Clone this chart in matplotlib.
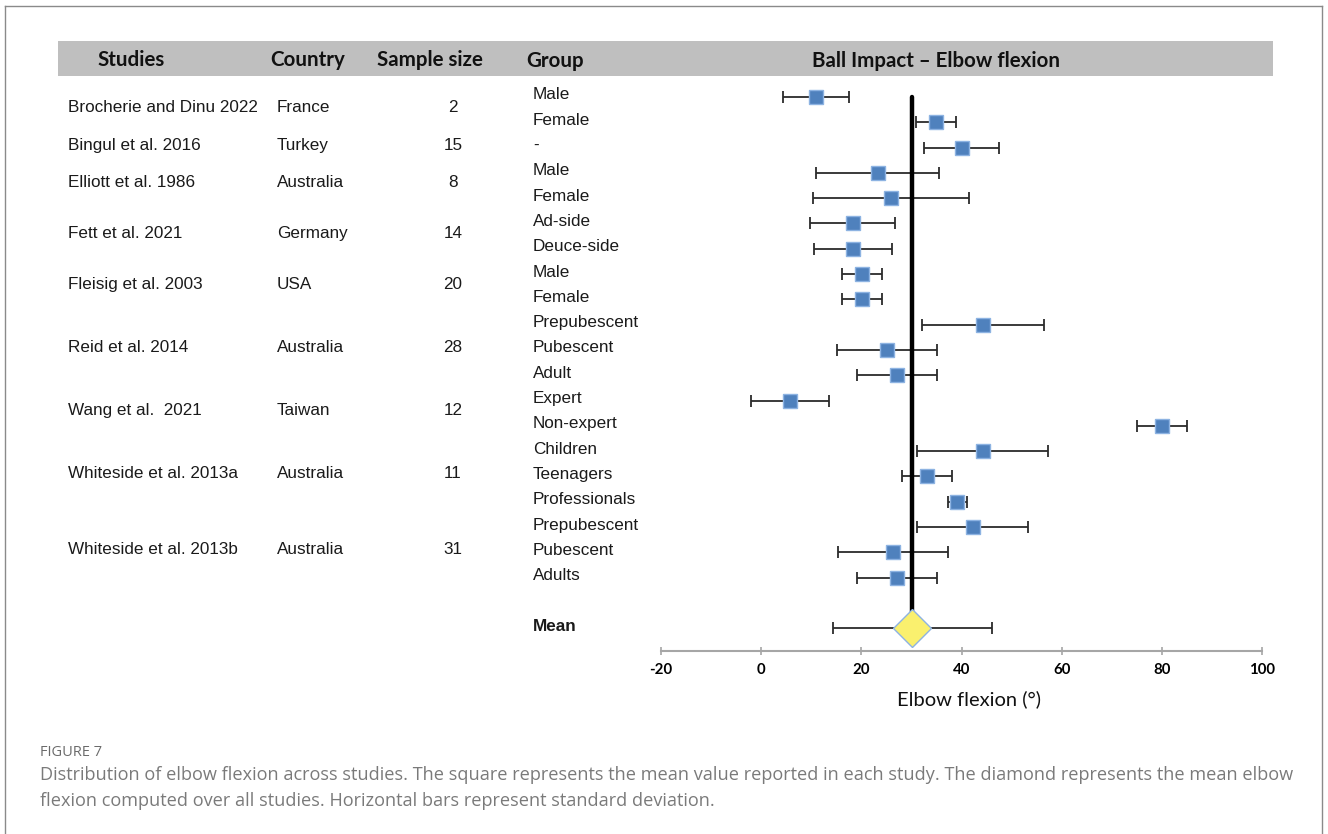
import matplotlib
matplotlib.use("Agg")
import matplotlib.pyplot as plt
import matplotlib.transforms as mtransforms
from matplotlib.patches import Rectangle
from matplotlib.lines import Line2D
import numpy as np

# ---------------- data ----------------
studies = ["Brocherie and Dinu 2022", "Bingul et al. 2016", "Elliott et al. 1986",
           "Fett et al. 2021", "Fleisig et al. 2003", "Reid et al. 2014",
           "Wang et al.  2021", "Whiteside et al. 2013a", "Whiteside et al. 2013b"]
countries = ["France", "Turkey", "Australia", "Germany", "USA", "Australia",
             "Taiwan", "Australia", "Australia"]
sample_sizes = [2, 15, 8, 14, 20, 28, 12, 11, 31]
groups_per_study = [2, 1, 2, 2, 2, 3, 2, 3, 3]

groups = ["Male", "Female", "-", "Male", "Female", "Ad-side", "Deuce-side",
          "Male", "Female", "Prepubescent", "Pubescent", "Adult", "Expert",
          "Non-expert", "Children", "Teenagers", "Professionals",
          "Prepubescent", "Pubescent", "Adults"]
means = [11.0, 35.0, 40.0, 23.3, 25.9, 18.3, 18.3, 20.2, 20.2, 44.3, 25.2,
         27.2, 5.7, 80.0, 44.2, 33.2, 39.2, 42.2, 26.3, 27.2]
sds = [6.6, 4.0, 7.4, 12.3, 15.6, 8.5, 7.8, 4.0, 4.0, 12.2, 10.0, 8.0, 7.8,
       5.0, 13.0, 5.0, 1.9, 11.0, 11.0, 8.0]
overall_mean = 30.2
overall_sd = 15.8

xticks = [-20, 0, 20, 40, 60, 80, 100]
header_labels = ["Studies", "Country", "Sample size", "Group",
                 "Ball Impact \u2013 Elbow flexion"]
xlabel = "Elbow flexion (\u00b0)"
caption_title = "FIGURE 7"
caption_lines = [
    "Distribution of elbow flexion across studies. The square represents the mean value reported in each study. The diamond represents the mean elbow",
    "flexion computed over all studies. Horizontal bars represent standard deviation.",
]

# ---------------- figure ----------------
W, H = 1328, 834
fig = plt.figure(figsize=(W / 100, H / 100), dpi=100)
fig.patch.set_facecolor("white")

def fx(x):
    return x / W

def fy(y):
    return 1 - y / H

# outer frame (left, top, right)
frame_col = "#8a8a8a"
fig.add_artist(Line2D([fx(5), fx(5)], [fy(6), 0], transform=fig.transFigure, color=frame_col, lw=1.0))
fig.add_artist(Line2D([fx(5), fx(1322)], [fy(6), fy(6)], transform=fig.transFigure, color=frame_col, lw=1.0))
fig.add_artist(Line2D([fx(1322), fx(1322)], [fy(6), 0], transform=fig.transFigure, color=frame_col, lw=1.0))

# header band
fig.add_artist(Rectangle((fx(58), fy(76)), fx(1273) - fx(58), fy(41) - fy(76),
                         transform=fig.transFigure, facecolor="#BFBFBF", edgecolor="none"))
hdr_font = dict(family="Lato", fontweight="bold", fontsize=14.8, color="#111111", va="center")
fig.text(fx(131), fy(60), header_labels[0], ha="center", **hdr_font)
fig.text(fx(308), fy(60), header_labels[1], ha="center", **hdr_font)
fig.text(fx(430), fy(60), header_labels[2], ha="center", **hdr_font)
fig.text(fx(526), fy(61), header_labels[3], ha="left", **hdr_font)
fig.text(fx(936), fy(61), header_labels[4], ha="center", **hdr_font)

# ---------------- axes ----------------
ax = fig.add_axes([fx(661), fy(651), fx(1262) - fx(661), (651 - 80) / H])
n = len(groups)
rows = np.arange(n)
mean_row = n + 1

ax.errorbar(means, rows, xerr=sds, fmt="none", ecolor="#2b2b2b", elinewidth=1.3,
            capsize=4.5, capthick=1.3, zorder=2)
ax.errorbar([overall_mean], [mean_row], xerr=[overall_sd], fmt="none", ecolor="#2b2b2b",
            elinewidth=1.3, capsize=4.5, capthick=1.3, zorder=2)
ax.plot([overall_mean, overall_mean], [rows[0], mean_row], color="black", lw=3.2,
        solid_capstyle="round", zorder=3)
ax.plot(means, rows, linestyle="none", marker="s", markersize=10.5,
        markerfacecolor="#4F81BD", markeredgecolor="#8DB3E2", markeredgewidth=1.0, zorder=4)
ax.plot([overall_mean], [mean_row], linestyle="none", marker="D", markersize=19.5,
        markerfacecolor="#FAF06E", markeredgecolor="#8DB3E2", markeredgewidth=1.0, zorder=5)

ax.set_xlim(xticks[0], xticks[-1])
ax.set_ylim(mean_row + 0.9, -0.67)
ax.set_xticks(xticks)
ax.set_xticklabels([str(t) for t in xticks], fontfamily="Lato", fontweight="bold", fontsize=10.8)
ax.set_yticks([])
for s in ["left", "top", "right"]:
    ax.spines[s].set_visible(False)
ax.spines["bottom"].set_color("#A6A6A6")
ax.spines["bottom"].set_linewidth(1.5)
ax.tick_params(axis="x", direction="inout", length=6, width=1.2, color="#A6A6A6", pad=6)
ax.set_xlabel(xlabel, fontfamily="Lato", fontsize=14.5, labelpad=9, color="#111111")
ax.xaxis.set_label_coords(0.512, -0.068)
ax.patch.set_alpha(0)

# group labels and table text
blend = mtransforms.blended_transform_factory(fig.transFigure, ax.transData)
txt_font = dict(family="Liberation Sans", fontsize=12.3, color="#1a1a1a", va="center")
for i, g in enumerate(groups):
    ax.text(fx(533), i - 0.08, g, transform=blend, ha="left", **txt_font)
ax.text(fx(533), mean_row - 0.05, "Mean", transform=blend, ha="left", fontweight="bold",
        **txt_font)

start = 0
for s, c, nsz, k in zip(studies, countries, sample_sizes, groups_per_study):
    yc = start + (k - 1) / 2 - 0.1
    ax.text(fx(68), yc, s, transform=blend, ha="left", **txt_font)
    ax.text(fx(277), yc, c, transform=blend, ha="left", **txt_font)
    ax.text(fx(453), yc, str(nsz), transform=blend, ha="center", **txt_font)
    start += k

# caption
fig.text(fx(40), fy(752), caption_title, fontfamily="Open Sans", fontsize=10.5, color="#6b6b6b",
         va="center", ha="left")
for j, line in enumerate(caption_lines):
    fig.text(fx(40), fy(775 + 26 * j), line, fontfamily="Open Sans", fontsize=13.1,
             color="#7a7a7a", va="center", ha="left")

fig.savefig("out.png", dpi=100)
